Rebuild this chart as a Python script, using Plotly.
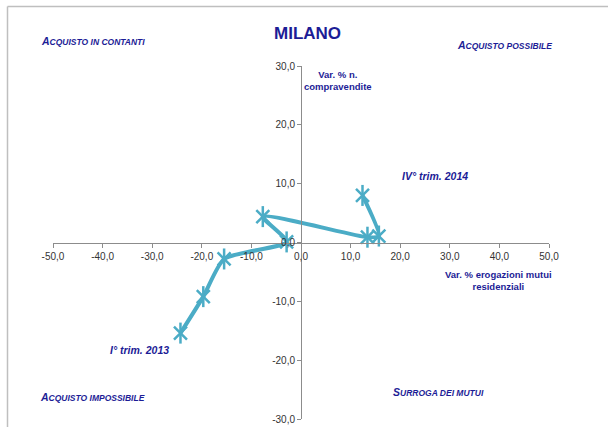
import plotly.graph_objects as go

# Data (Milano): quarters Q1 2013 .. Q4 2014
quarters = ["I° trim. 2013", "II° trim. 2013", "III° trim. 2013", "IV° trim. 2013",
            "I° trim. 2014", "II° trim. 2014", "III° trim. 2014", "IV° trim. 2014"]
var_mutui = [-24.3, -19.7, -15.5, -2.9, -7.7, 13.4, 15.7, 12.4]
var_compravendite = [-15.4, -9.2, -2.8, 0.1, 4.4, 0.9, 1.1, 8.0]

x_ticks = [-50, -40, -30, -20, -10, 0, 10, 20, 30, 40, 50]
x_tick_labels = ["-50,0", "-40,0", "-30,0", "-20,0", "-10,0", "0,0",
                 "10,0", "20,0", "30,0", "40,0", "50,0"]
y_ticks = [-30, -20, -10, 0, 10, 20, 30]
y_tick_labels = ["-30,0", "-20,0", "-10,0", "0,0", "10,0", "20,0", "30,0"]

LINE = "#4BACC6"
NAVY = "#1C1C96"
FONT = "Liberation Sans, Arial, sans-serif"

fig = go.Figure()
fig.add_trace(go.Scatter(
    x=var_mutui, y=var_compravendite, mode="lines+markers",
    line=dict(color=LINE, width=4, shape="spline", smoothing=0.6),
    marker=dict(symbol="x-thin-open", size=13, color=LINE, line=dict(color=LINE, width=2.5)),
    hoverinfo="skip", showlegend=False))
fig.add_trace(go.Scatter(
    x=var_mutui, y=var_compravendite, mode="markers",
    marker=dict(symbol="line-ns-open", size=15, color=LINE, line=dict(color=LINE, width=2.5)),
    hoverinfo="skip", showlegend=False))

axis_common = dict(
    showgrid=False, zeroline=False, showline=True, linecolor="#8C8C8C", linewidth=1,
    ticks="outside", ticklen=4, tickcolor="#8C8C8C",
    tickfont=dict(family=FONT, size=10, color="#333333"),
    anchor="free", position=0.5, fixedrange=True, automargin=False,
)
fig.update_layout(
    width=608, height=427,
    margin=dict(l=53, r=59, t=66, b=8, autoexpand=False),
    paper_bgcolor="white", plot_bgcolor="white",
    xaxis=dict(range=[-50, 50], tickvals=x_ticks, ticktext=x_tick_labels, **axis_common),
    yaxis=dict(range=[-30, 30], tickvals=y_ticks, ticktext=y_tick_labels, **axis_common),
    showlegend=False,
)

def px_to_paper(px, py):
    return (px - 53) / 496.0, (419 - py) / 353.0

def ann(text, px, py, size=10, bold=True, italic=False, align="center", xanchor="center"):
    xp, yp = px_to_paper(px, py)
    t = text
    if bold:
        t = "<b>" + t + "</b>"
    if italic:
        t = "<i>" + t + "</i>"
    fig.add_annotation(x=xp, y=yp, xref="paper", yref="paper", text=t, showarrow=False,
                       xanchor=xanchor, yanchor="middle", align=align,
                       font=dict(family=FONT, size=size, color=NAVY))

def smallcaps(first, rest):
    return first + "<span style='font-size:8.5px'>" + rest + "</span>"

ann("MILANO", 307, 33, size=17)
ann(smallcaps("A", "CQUISTO IN CONTANTI"), 39, 41, size=10.5, italic=True, xanchor="left")
ann(smallcaps("A", "CQUISTO POSSIBILE"), 455, 45, size=10.5, italic=True, xanchor="left")
ann(smallcaps("A", "CQUISTO IMPOSSIBILE"), 38, 397, size=10.5, italic=True, xanchor="left")
ann(smallcaps("S", "URROGA DEI MUTUI"), 391, 392, size=10.5, italic=True, xanchor="left")
ann("Var. % n.<br>compravendite", 338, 80, size=9.5)
ann("Var. % erogazioni mutui<br>residenziali", 498, 280, size=9.5)
ann(quarters[0], 108, 350, size=10.5, italic=True, xanchor="left")
ann(quarters[-1], 400, 176, size=10.5, italic=True, xanchor="left")

# chart frame (top and left edges)
x0, y0 = px_to_paper(7.5, 6.5)
x1, _ = px_to_paper(610, 6.5)
_, y1 = px_to_paper(7.5, 430)
fig.add_shape(type="line", xref="paper", yref="paper", x0=x0, y0=y0, x1=x1, y1=y0,
              line=dict(color="#BFBFBF", width=1.5))
fig.add_shape(type="line", xref="paper", yref="paper", x0=x0, y0=y0, x1=x0, y1=y1,
              line=dict(color="#BFBFBF", width=1.5))

fig.write_html("out.html", config={"displayModeBar": False},
               post_script="document.body.style.margin='0';")
